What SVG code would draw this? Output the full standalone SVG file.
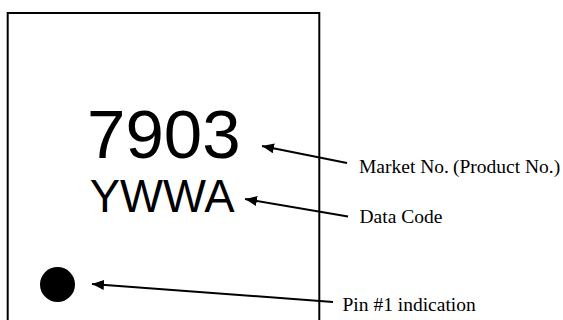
<svg xmlns="http://www.w3.org/2000/svg" width="563" height="320" viewBox="0 0 563 320">
  <style>
    .mark { font-family: "Liberation Sans", Arial, sans-serif; fill: #000; text-anchor: middle; }
    .label { font-family: "Liberation Serif", "Times New Roman", serif; font-size: 19.5px; fill: #000; }
    .conn { stroke: #000; stroke-width: 2; fill: none; marker-end: url(#arrow); }
  </style>
  <defs>
    <marker id="arrow" markerUnits="userSpaceOnUse" markerWidth="13" markerHeight="11" refX="12" refY="5" orient="auto" viewBox="0 0 13 11">
      <path d="M0,0 L12,5 L0,10 z" fill="#000"/>
    </marker>
  </defs>
  <rect width="563" height="320" fill="#fff"/>
  <g id="package">
    <path d="M7.7,322 L7.7,13 L319.3,13 L319.3,322" fill="none" stroke="#000" stroke-width="2"/>
  </g>
  <g id="market-no-marking">
    <text class="mark" x="163.8" y="158.3" font-size="69">7903</text>
  </g>
  <g id="data-code-marking">
    <text class="mark" x="162.2" y="212" font-size="45.5">YWWA</text>
  </g>
  <g id="pin1-dot">
    <circle cx="57.5" cy="284.5" r="17.5" fill="#000"/>
  </g>
  <g id="connectors">
    <line class="conn" x1="347" y1="163" x2="262" y2="146"/>
    <line class="conn" x1="348" y1="216.5" x2="245" y2="199"/>
    <line class="conn" x1="333" y1="302" x2="92" y2="284"/>
  </g>
  <g id="label-market">
    <text class="label" x="359" y="173">Market No.<tspan dx="4">(Product No.)</tspan></text>
  </g>
  <g id="label-data">
    <text class="label" x="359.5" y="222.5">Data Code</text>
  </g>
  <g id="label-pin">
    <text class="label" x="342.5" y="311">Pin #1 indication</text>
  </g>
</svg>
